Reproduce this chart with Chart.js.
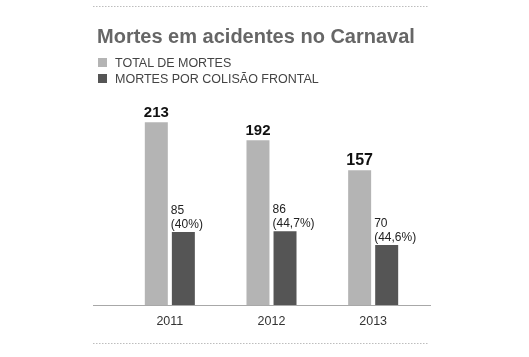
<!DOCTYPE html>
<html>
<head>
<meta charset="utf-8">
<script src="https://cdn.jsdelivr.net/npm/chart.js@4/dist/chart.umd.min.js"></script>
<style>
  html, body { margin: 0; padding: 0; background: #fff; }
  #wrap { position: relative; width: 529px; height: 357px; overflow: hidden; }
  #c { position: absolute; left: 0; top: 0; }
  #title { position: absolute; left: 97px; top: 25px; font: bold 20px "Liberation Sans", Arial, sans-serif; color: #666; white-space: nowrap; }
  #legend { position: absolute; left: 98px; top: 55px; font: 12.5px "Liberation Sans", Arial, sans-serif; color: #444; }
  .li { height: 16px; line-height: 16px; white-space: nowrap; }
  .sw { display: inline-block; width: 9px; height: 9px; margin-right: 8px; vertical-align: 0px; }
</style>
</head>
<body>
<div id="wrap">
  <canvas id="c" width="529" height="357"></canvas>
  <div id="title">Mortes em acidentes no Carnaval</div>
  <div id="legend"></div>
</div>
<script>
const categories = ['2011', '2012', '2013'];
const totalDeaths = [213, 192, 157];
const frontalDeaths = [85, 86, 70];
const frontalPct = ['40%', '44,7%', '44,6%'];
const seriesNames = ['TOTAL DE MORTES', 'MORTES POR COLISÃO FRONTAL'];
const colors = ['#b4b4b4', '#555555'];

// HTML legend
const leg = document.getElementById('legend');
seriesNames.forEach((n, i) => {
  const d = document.createElement('div');
  d.className = 'li';
  d.innerHTML = '<span class="sw" style="background:' + colors[i] + '"></span>' + n;
  leg.appendChild(d);
});

const decor = {
  id: 'decor',
  afterDraw(chart) {
    const ctx = chart.ctx;
    const ca = chart.chartArea;
    ctx.save();
    // baseline
    ctx.strokeStyle = '#a8a8a8';
    ctx.lineWidth = 1;
    ctx.beginPath();
    ctx.moveTo(93, ca.bottom + 0.5);
    ctx.lineTo(431, ca.bottom + 0.5);
    ctx.stroke();
    // dotted separators
    ctx.fillStyle = '#bdbdbd';
    [6, 343].forEach(y => {
      for (let x = 93; x <= 428; x += 3) ctx.fillRect(x, y, 1.5, 1);
    });
    // value labels
    const m0 = chart.getDatasetMeta(0);
    const m1 = chart.getDatasetMeta(1);
    ctx.fillStyle = '#111';
    ctx.textAlign = 'center';
    ctx.textBaseline = 'alphabetic';
    m0.data.forEach((bar, i) => {
      ctx.font = 'bold ' + (i === 2 ? 16 : 15) + 'px "Liberation Sans", Arial, sans-serif';
      ctx.fillText(String(totalDeaths[i]), bar.x, bar.y - 5);
    });
    ctx.fillStyle = '#222';
    ctx.textAlign = 'left';
    ctx.font = '12px "Liberation Sans", Arial, sans-serif';
    m1.data.forEach((bar, i) => {
      const left = bar.x - bar.width / 2 - 1;
      ctx.fillText(String(frontalDeaths[i]), left, bar.y - 18);
      ctx.fillText('(' + frontalPct[i] + ')', left, bar.y - 4);
    });
    ctx.restore();
  }
};

new Chart(document.getElementById('c'), {
  type: 'bar',
  data: {
    labels: categories,
    datasets: [
      { label: seriesNames[0], data: totalDeaths, backgroundColor: colors[0] },
      { label: seriesNames[1], data: frontalDeaths, backgroundColor: colors[1] }
    ]
  },
  options: {
    responsive: false,
    animation: false,
    devicePixelRatio: 1,
    layout: { padding: { left: 119, right: 105, top: 99, bottom: 0 } },
    datasets: { bar: { categoryPercentage: 0.532, barPercentage: 0.85 } },
    plugins: { legend: { display: false }, title: { display: false }, tooltip: { enabled: false } },
    scales: {
      x: {
        grid: { display: false, drawTicks: false },
        border: { display: false },
        ticks: { color: '#333', font: { family: '"Liberation Sans", Arial, sans-serif', size: 12.5 }, padding: 9 },
        afterFit(scale) { scale.height = 52; }
      },
      y: {
        display: false,
        min: 0,
        max: 240
      }
    }
  },
  plugins: [decor]
});
</script>
</body>
</html>
